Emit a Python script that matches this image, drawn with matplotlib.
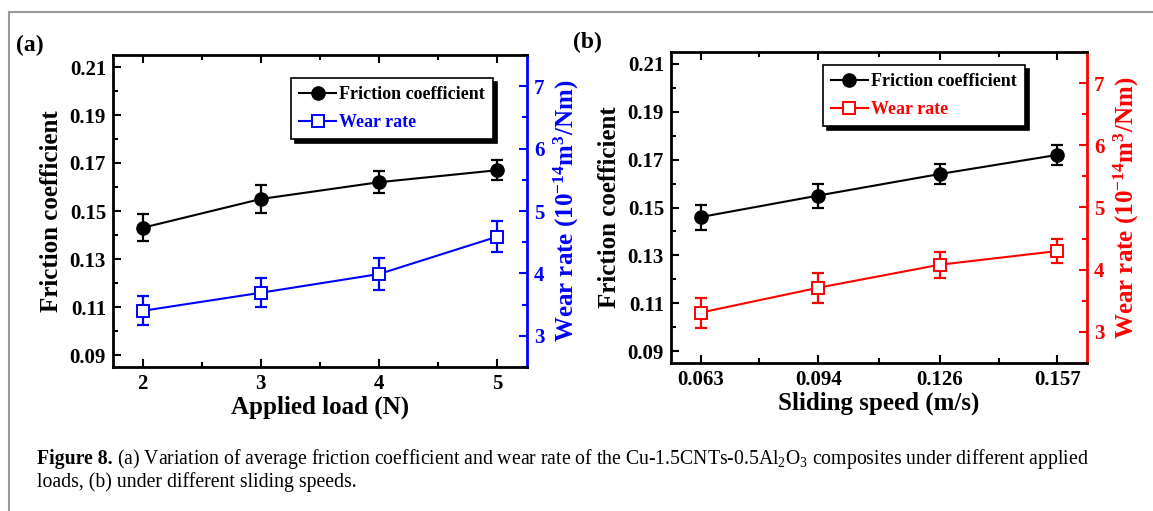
import numpy as np
import matplotlib
matplotlib.use('Agg')
import matplotlib.pyplot as plt
from matplotlib.ticker import MultipleLocator, FixedLocator
from matplotlib.lines import Line2D

plt.rcParams['font.family'] = ['Liberation Serif', 'DejaVu Serif']
plt.rcParams['font.weight'] = 'bold'
plt.rcParams['axes.labelweight'] = 'bold'
plt.rcParams['mathtext.default'] = 'regular'

#####################################
# data
#####################################
load = [2, 3, 4, 5]
fric_load = [0.143, 0.155, 0.162, 0.167]
fric_load_err = [0.0057, 0.006, 0.0046, 0.0042]
wear_load = [3.40, 3.69, 3.99, 4.59]
wear_load_err = [0.23, 0.23, 0.25, 0.25]

speed = [0.063, 0.094, 0.126, 0.157]
speed_labels = ['0.063', '0.094', '0.126', '0.157']
fric_speed = [0.146, 0.155, 0.164, 0.172]
fric_speed_err = [0.0052, 0.005, 0.004, 0.0043]
wear_speed = [3.31, 3.71, 4.08, 4.30]
wear_speed_err = [0.24, 0.24, 0.21, 0.20]

W, H = 1153, 511
fig = plt.figure(figsize=(W / 100, H / 100), dpi=100)


def box(l, t, r, b):
    return [l / W, 1 - b / H, (r - l) / W, (b - t) / H]


def panel(rect, x, fr, fr_err, wr, wr_err, wcol, xlim, xlabel, tag, leg_anchor):
    ax = fig.add_axes(rect)
    ax2 = ax.twinx()
    ax.set_zorder(ax2.get_zorder() + 1)
    ax.patch.set_visible(False)

    # friction (left axis)
    ax.errorbar(x, fr, yerr=fr_err, fmt='none', ecolor='black', elinewidth=1.6,
                capsize=4, capthick=1.6)
    l1, = ax.plot(x, fr, color='black', lw=1.5, marker='o', ms=9.5,
                  label='Friction coefficient')

    # wear rate (right axis)
    ax2.errorbar(x, wr, yerr=wr_err, fmt='none', ecolor=wcol, elinewidth=1.6,
                 capsize=4, capthick=1.6)
    l2, = ax2.plot(x, wr, color=wcol, lw=1.5, marker='s', ms=8.5,
                   mfc='white', mec=wcol, mew=1.4, label='Wear rate')

    ax.set_xlim(xlim)
    ax.set_ylim(0.085, 0.215)
    ax2.set_ylim(2.5, 7.5)
    ax.yaxis.set_major_locator(FixedLocator([0.09, 0.11, 0.13, 0.15, 0.17, 0.19, 0.21]))
    ax.yaxis.set_minor_locator(MultipleLocator(0.01))
    ax2.yaxis.set_major_locator(MultipleLocator(1))
    ax2.yaxis.set_minor_locator(MultipleLocator(0.5))
    ax.set_xticks(x)
    mids = [(x[i] + x[i + 1]) / 2 for i in range(len(x) - 1)]
    ax.xaxis.set_minor_locator(FixedLocator(mids))

    for s in ['left', 'bottom', 'top']:
        ax.spines[s].set_linewidth(2)
    ax.spines['right'].set_visible(False)
    for s in ['left', 'bottom', 'top']:
        ax2.spines[s].set_visible(False)
    ax2.spines['right'].set_color(wcol)
    ax2.spines['right'].set_linewidth(2)

    ax.tick_params(which='both', direction='in', top=True, right=False, width=1.5,
                   labelsize=15, pad=5)
    ax.tick_params(which='major', length=6)
    ax.tick_params(which='minor', length=3.5)
    ax2.tick_params(which='both', direction='in', colors=wcol, width=1.5,
                    labelsize=15, pad=5)
    ax2.tick_params(which='major', length=6)
    ax2.tick_params(which='minor', length=3.5)

    ax.set_ylabel('Friction coefficient', fontsize=18, labelpad=5)
    ax.set_xlabel(xlabel, fontsize=18, labelpad=1)
    ax2.set_ylabel('Wear rate (10$^{-14}$m$^{3}$/Nm)', fontsize=18, color=wcol,
                   labelpad=5)
    ax.text(-0.235, 1.03, tag, transform=ax.transAxes, fontsize=17,
            ha='left', va='center')

    leg = ax.legend([l1, l2], ['Friction coefficient', 'Wear rate'],
                    loc='upper right', bbox_to_anchor=leg_anchor, fontsize=13,
                    frameon=True, fancybox=False, framealpha=1,
                    edgecolor='black', handlelength=2.0, handletextpad=0.2,
                    borderpad=0.45, labelspacing=0.6, borderaxespad=0,
                    shadow={'ox': 3, 'oy': -3, 'facecolor': 'black',
                            'edgecolor': 'black', 'alpha': 1})
    leg.get_frame().set_linewidth(1.2)
    leg.get_texts()[1].set_color(wcol)
    return ax, ax2


axa, _ = panel(box(113, 55, 527, 367), load, fric_load, fric_load_err,
               wear_load, wear_load_err, 'blue', (1.75, 5.25),
               'Applied load (N)', '(a)', (0.918, 0.926))

axb, _ = panel(box(671, 52, 1087, 363), speed, fric_speed, fric_speed_err,
               wear_speed, wear_speed_err, 'red', (0.0552, 0.1648),
               'Sliding speed (m/s)', '(b)', (0.851, 0.958))
axb.set_xticklabels(speed_labels)

# frame lines of the figure box
fig.add_artist(Line2D([9 / W, 1], [1 - 12 / H, 1 - 12 / H], color='#999999', lw=1.5))
fig.add_artist(Line2D([9 / W, 9 / W], [0, 1 - 12 / H], color='#999999', lw=1.5))

# caption
r = fig.canvas.get_renderer()
t0 = fig.text(37 / W, 1 - 459 / H, 'Figure 8.', fontsize=14.2, fontweight='bold',
              va='center', ha='left')
bb = t0.get_window_extent(r)
fig.text(bb.x1 / W + 4 / W, 1 - 459 / H,
         '(a) Variation of average friction coefficient and wear rate of the '
         'Cu-1.5CNTs-0.5Al$_2$O$_3$ composites under different applied',
         fontsize=14.2, fontweight='normal', va='center', ha='left')
fig.text(37 / W, 1 - 482 / H, 'loads, (b) under different sliding speeds.',
         fontsize=14.2, fontweight='normal', va='center', ha='left')

fig.savefig('out.png', dpi=100)
